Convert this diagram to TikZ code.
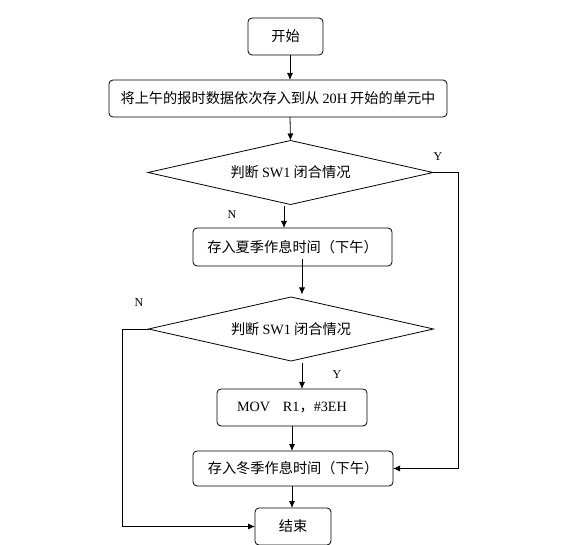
\documentclass[tikz,border=0pt]{standalone}
\usepackage{fontspec}
\setmainfont{Liberation Serif}
\newfontfamily\cjk{Noto Sans CJK SC}
\usetikzlibrary{shapes.geometric, arrows.meta}
\begin{document}
\begin{tikzpicture}[x=1pt, y=-1pt, line width=0.8pt, font=\cjk\fontsize{14.2}{17}\selectfont,
    every node/.style={inner sep=0pt, outer sep=0pt},
    stepbox/.style={draw, rounded corners=4pt, minimum height=37pt},
    test/.style={draw, diamond, aspect=4.45, minimum width=285pt, minimum height=64pt},
    lbl/.style={font=\rmfamily\fontsize{12}{14}\selectfont},
    arr/.style={-{Latex[length=7pt, width=6pt]}}]
    \useasboundingbox (0, 0) rectangle (576, 545);
    \node[stepbox, minimum width=75pt] (start) at (285.5, 36.5) {开始};
    \node[stepbox, minimum width=338pt] (store) at (278, 98.5) {将上午的报时数据依次存入到从 {\rmfamily 20H} 开始的单元中};
    \node[test] (sw1a) at (290.5, 172.5) {判断 {\rmfamily SW1} 闭合情况};
    \node[stepbox, minimum width=199pt, minimum height=38pt] (summer) at (292.5, 247) {存入夏季作息时间（下午）};
    \node[test] (sw1b) at (291, 329) {判断 {\rmfamily SW1} 闭合情况};
    \node[stepbox, minimum width=150pt] (mov) at (292, 407.5) {{\rmfamily MOV\hspace{0.9em}R1}，{\rmfamily\#3EH}};
    \node[stepbox, minimum width=200pt, minimum height=35pt] (winter) at (293, 468.5) {存入冬季作息时间（下午）};
    \node[stepbox, minimum width=76pt] (finish) at (293, 526.5) {结束};
    % labels
    \node[lbl] (ya) at (438, 157) {Y};
    \node[lbl] (na) at (232, 215) {N};
    \node[lbl] (nb) at (139, 303) {N};
    \node[lbl] (yb) at (337, 375) {Y};
    % connectors
    \draw[arr] ([xshift=4.5]start.south) -- ([xshift=12]store.north);
    \draw[arr] ([xshift=12]store.south) -- (sw1a.north);
    \draw[arr] ([xshift=-6.5, yshift=-1.5]sw1a.south) -- ([xshift=-8.5]summer.north);
    \draw[arr] ([xshift=9.5, yshift=7]summer.south) -- ([xshift=11, yshift=2.5]sw1b.north);
    \draw[arr] ([xshift=11, yshift=-2.5]sw1b.south) -- ([xshift=10]mov.north);
    \draw[arr] (mov.south) -- ([xshift=-1]winter.north);
    \draw[arr] ([xshift=-1]winter.south) -- ([xshift=-1]finish.north);
    \draw[arr] (sw1a.east) -- ++(25, 0) |- (winter.east);
    \draw[arr] (sw1b.west) -- ++(-26, 0) |- (finish.west);
\end{tikzpicture}
\end{document}
